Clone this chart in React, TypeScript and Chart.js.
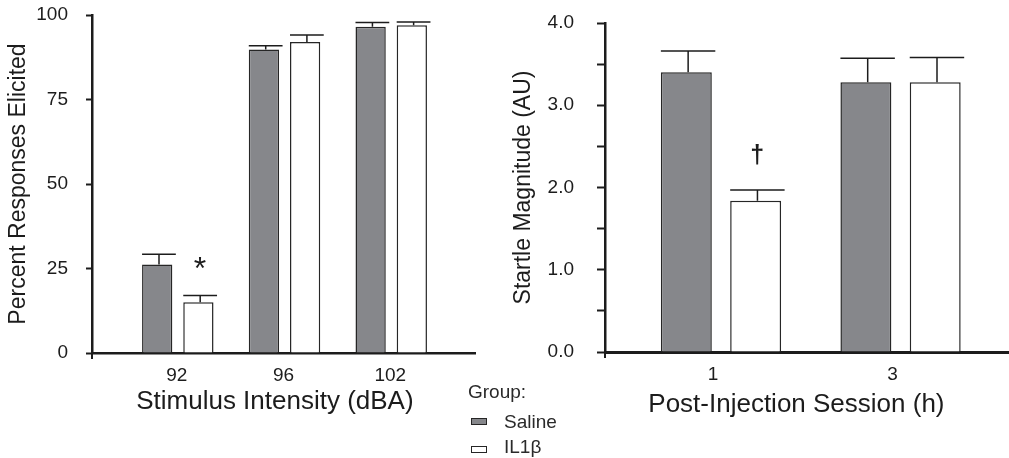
import React, { useEffect, useRef } from "react";
import { Chart, registerables } from "chart.js";

Chart.register(...registerables);

// ---------- data ----------
const intensityLabels = ["92", "96", "102"];
const intensityPositions = [1, 2, 3];
const salineResponses = [26.2, 89.8, 96.5];
const salineResponsesSE = [3.0, 1.1, 1.3];
const il1bResponses = [15.0, 92.0, 97.0];
const il1bResponsesSE = [2.0, 2.1, 0.9];
const il1bResponseMarks = ["*", "", ""];
const responseTicks = [0, 25, 50, 75, 100];
const responseTickLabels = ["0", "25", "50", "75", "100"];

const sessionLabels = ["1", "3"];
const sessionPositions = [1, 2];
const salineStartle = [3.4, 3.28];
const salineStartleSE = [0.26, 0.29];
const il1bStartle = [1.84, 3.28];
const il1bStartleSE = [0.13, 0.3];
const il1bStartleMarks = ["†", ""];
const startleTicks = [0, 0.5, 1, 1.5, 2, 2.5, 3, 3.5, 4];
const startleTickLabels = ["0.0", "", "1.0", "", "2.0", "", "3.0", "", "4.0"];

const groupNames = ["Saline", "IL1β"];

// ---------- style ----------
const FONT = "'Liberation Sans', Arial, Helvetica, sans-serif";
const INK = "#1c1c1c";
const SALINE_FILL = "#86878b";
const IL_FILL = "#ffffff";
const EDGE = "#262626";

const extrasPlugin = {
  id: "extras",
  afterDatasetsDraw(chart: any) {
    const opts = chart.options.plugins.extras || {};
    const ctx = chart.ctx;
    const yScale = chart.scales.y;
    const xScale = chart.scales.x;
    ctx.save();
    chart.data.datasets.forEach((ds: any, i: number) => {
      const meta = chart.getDatasetMeta(i);
      meta.data.forEach((bar: any, j: number) => {
        const v = ds.data[j].y;
        const top = yScale.getPixelForValue(v + ds.se[j]);
        const left = bar.x - bar.width / 2;
        const right = bar.x + bar.width / 2 + 3.5;
        const cx = bar.x + 1.8;
        ctx.strokeStyle = INK;
        ctx.lineWidth = 1.5;
        ctx.beginPath();
        ctx.moveTo(cx, bar.y);
        ctx.lineTo(cx, top);
        ctx.moveTo(left, top);
        ctx.lineTo(right, top);
        ctx.stroke();
        if (ds.marks && ds.marks[j]) {
          ctx.fillStyle = INK;
          ctx.font = opts.markFont;
          ctx.textAlign = "center";
          ctx.textBaseline = "alphabetic";
          ctx.fillText(ds.marks[j], bar.x + 1.5, top - opts.markRise);
        }
      });
    });
    // short downward tick at the origin
    const ca = chart.chartArea;
    ctx.strokeStyle = INK;
    ctx.lineWidth = 2;
    ctx.beginPath();
    ctx.moveTo(ca.left, ca.bottom);
    ctx.lineTo(ca.left, ca.bottom + 6);
    ctx.stroke();
    // x-axis title
    ctx.fillStyle = INK;
    ctx.font = `26px ${FONT}`;
    ctx.textAlign = "center";
    ctx.textBaseline = "middle";
    ctx.fillText(opts.xTitle, xScale.getPixelForValue(opts.xTitleAt), opts.xTitleY);
    ctx.restore();
  },
};

function buildConfig(p: any) {
  return {
    type: "bar",
    data: {
      datasets: [
        {
          label: groupNames[0],
          data: p.xs.map((x: number, i: number) => ({ x, y: p.saline[i] })),
          se: p.salineSE,
          backgroundColor: SALINE_FILL,
          borderColor: EDGE,
          borderWidth: 1.5,
        },
        {
          label: groupNames[1],
          data: p.xs.map((x: number, i: number) => ({ x, y: p.il[i] })),
          se: p.ilSE,
          marks: p.marks,
          backgroundColor: IL_FILL,
          borderColor: EDGE,
          borderWidth: 1.5,
        },
      ],
    },
    options: {
      responsive: false,
      animation: false,
      devicePixelRatio: 1,
      layout: { padding: p.padding },
      datasets: { bar: { categoryPercentage: 0.772, barPercentage: 0.735 } },
      plugins: {
        legend: { display: false },
        tooltip: { enabled: false },
        extras: {
          markFont: p.markFont,
          markRise: p.markRise,
          xTitle: p.xTitle,
          xTitleAt: p.xTitleAt,
          xTitleY: p.xTitleY,
        },
      },
      scales: {
        x: {
          type: "linear",
          min: p.xMin,
          max: p.xMax,
          offset: false,
          afterBuildTicks: (s: any) => {
            s.ticks = p.xs.map((v: number) => ({ value: v }));
          },
          ticks: {
            callback: (_v: any, i: number) => p.xLabels[i],
            font: { size: 19, family: FONT },
            color: INK,
            padding: 11,
            labelOffset: p.labelOffset,
            maxRotation: 0,
            autoSkip: false,
          },
          grid: { display: false, drawTicks: false, offset: false },
          border: { display: true, color: INK, width: p.xBorder },
          afterFit: (s: any) => {
            s.height = p.xHeight;
            s.paddingLeft = 0;
            s.paddingRight = 0;
          },
        },
        y: {
          min: p.yMin,
          max: p.yMax,
          afterBuildTicks: (s: any) => {
            s.ticks = p.yTicks.map((v: number) => ({ value: v }));
          },
          ticks: {
            callback: (_v: any, i: number) => p.yTickLabels[i],
            font: { size: 19, family: FONT },
            color: INK,
            padding: p.yLabelPad,
            autoSkip: false,
          },
          grid: {
            display: true,
            drawOnChartArea: false,
            drawTicks: true,
            tickLength: p.tickLength,
            tickWidth: 2,
            tickColor: INK,
            color: "rgba(0,0,0,0)",
          },
          border: { display: true, color: INK, width: 2.5 },
          title: {
            display: true,
            text: p.yTitle,
            font: { size: 23, family: FONT },
            color: INK,
            padding: { top: p.yTitlePad, bottom: 0 },
          },
          afterFit: (s: any) => {
            s.width = p.yWidth;
            s.paddingTop = 0;
            s.paddingBottom = 0;
          },
        },
      },
    },
    plugins: [extrasPlugin],
  };
}

function BarPanel({ width, height, params }: any) {
  const ref = useRef<HTMLCanvasElement | null>(null);
  useEffect(() => {
    if (!ref.current) return;
    const chart = new Chart(ref.current, buildConfig(params) as any);
    return () => chart.destroy();
  }, []);
  return <canvas ref={ref} width={width} height={height} style={{ display: "block", width, height }} />;
}

const leftParams = {
  xs: intensityPositions,
  xLabels: intensityLabels,
  saline: salineResponses,
  salineSE: salineResponsesSE,
  il: il1bResponses,
  ilSE: il1bResponsesSE,
  marks: il1bResponseMarks,
  markFont: `32px ${FONT}`,
  markRise: 17,
  xMin: 0.196,
  xMax: 3.785,
  labelOffset: -1,
  yMin: 0,
  yMax: 100,
  yTicks: responseTicks,
  yTickLabels: responseTickLabels,
  yLabelPad: 18,
  tickLength: 6,
  yTitle: "Percent Responses Elicited",
  yTitlePad: 4.5,
  yWidth: 92,
  xHeight: 105,
  xBorder: 2.5,
  padding: { top: 15, right: 5, left: 0, bottom: 0 },
  xTitle: "Stimulus Intensity (dBA)",
  xTitleAt: 1.91,
  xTitleY: 402,
};

const rightParams = {
  xs: sessionPositions,
  xLabels: sessionLabels,
  saline: salineStartle,
  salineSE: salineStartleSE,
  il: il1bStartle,
  ilSE: il1bStartleSE,
  marks: il1bStartleMarks,
  markFont: `bold 25px ${FONT}`,
  markRise: 27,
  xMin: 0.354,
  xMax: 2.604,
  labelOffset: -8,
  yMin: 0,
  yMax: 4,
  yTicks: startleTicks,
  yTickLabels: startleTickLabels,
  yLabelPad: 23,
  tickLength: 8,
  yTitle: "Startle Magnitude (AU)",
  yTitlePad: 30,
  yWidth: 125,
  xHeight: 106,
  xBorder: 3,
  padding: { top: 23, right: 0, left: 0, bottom: 0 },
  xTitle: "Post-Injection Session (h)",
  xTitleAt: 1.42,
  xTitleY: 405,
};

const legendText: React.CSSProperties = {
  position: "absolute",
  fontFamily: FONT,
  fontSize: 19,
  lineHeight: "20px",
  color: "#2a2a2a",
  whiteSpace: "nowrap",
};

export default function App() {
  return (
    <div style={{ position: "absolute", left: 0, top: 0, width: 1009, height: 458, background: "#fff", overflow: "hidden" }}>
      <div style={{ position: "absolute", left: 0, top: 0 }}>
        <BarPanel width={480} height={458} params={leftParams} />
      </div>
      <div style={{ position: "absolute", left: 480, top: 0 }}>
        <BarPanel width={529} height={458} params={rightParams} />
      </div>
      <div style={{ ...legendText, left: 468, top: 382 }}>Group:</div>
      <div style={{ position: "absolute", left: 471, top: 418, width: 14, height: 5, background: SALINE_FILL, border: `1.5px solid ${EDGE}` }} />
      <div style={{ ...legendText, left: 504, top: 412 }}>{groupNames[0]}</div>
      <div style={{ position: "absolute", left: 471, top: 446, width: 14, height: 5, background: IL_FILL, border: `1.5px solid ${EDGE}` }} />
      <div style={{ ...legendText, left: 504, top: 437 }}>{groupNames[1]}</div>
    </div>
  );
}
